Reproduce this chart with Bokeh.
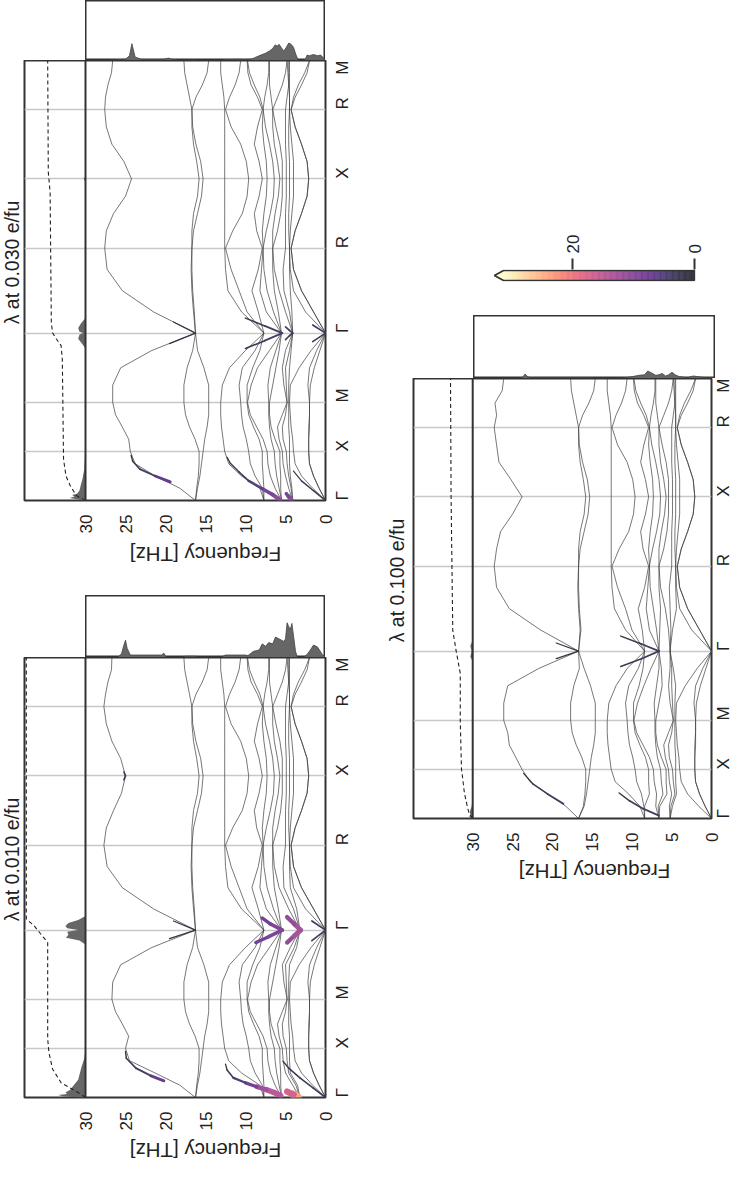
import math
from bokeh.plotting import figure
from bokeh.layouts import row, column
from bokeh.models import (Range1d, FixedTicker, Spacer, ColumnDataSource, Span,
                          CustomJSTickFormatter)
from bokeh.core.properties import value
from bokeh.palettes import Magma256
from bokeh.transform import linear_cmap
from bokeh.embed import file_html
from bokeh.resources import INLINE

FONT = "Liberation Sans"
INK = "#333333"
TXT = "#222222"

# ------------------------------------------------------------------ data
path_labels = ["Γ", "X", "M", "Γ", "R", "X", "R", "M"]
segment_lengths = [0.5, 0.5, 0.7071, 0.8660, 0.7071, 0.7071, 0.5]
sample_fracs = [0.0, 0.25, 0.5, 0.75]
freq_ticks = [0, 5, 10, 15, 20, 25, 30]
cbar_ticks = [0, 20]
LAM_MAX = 31.3

# band frequencies (THz) at the 29 k samples (4 per path segment + end), panel 0.030
bands_base = [
    [0, 0.8, 1.5, 2.0, 2.1, 2.1, 2.0, 2.0, 2.0, 1.9, 1.4, 0.7, 0, 1.5, 3.0, 4.0, 4.3, 3.8, 3.0, 2.3, 2.1, 2.3, 3.0, 3.8, 4.3, 3.8, 3.0, 2.3, 2.0],
    [0, 0.8, 1.5, 2.0, 2.1, 2.1, 2.1, 2.0, 2.0, 2.2, 2.0, 1.1, 0, 1.5, 3.0, 4.0, 4.3, 3.8, 3.0, 2.3, 2.1, 2.3, 3.0, 3.8, 4.3, 4.0, 3.4, 2.6, 2.0],
    [0, 1.6, 3.0, 3.8, 4.0, 4.1, 4.3, 4.4, 4.5, 4.4, 3.3, 1.8, 0, 2.5, 4.0, 4.4, 4.5, 4.4, 4.2, 4.0, 4.0, 4.0, 4.2, 4.4, 4.5, 4.5, 4.5, 4.5, 4.5],
    [4.1, 4.2, 4.4, 4.5, 4.5, 4.5, 4.6, 4.6, 4.6, 4.6, 4.5, 4.3, 4.1, 4.2, 4.4, 4.5, 4.5, 4.6, 4.6, 4.5, 4.5, 4.5, 4.6, 4.6, 4.5, 4.5, 4.6, 4.6, 4.6],
    [4.1, 4.3, 4.6, 4.8, 4.9, 5.3, 5.4, 5.0, 4.8, 4.9, 5.0, 4.5, 4.1, 4.5, 5.2, 5.3, 5.0, 5.0, 5.0, 4.9, 4.9, 4.9, 5.0, 5.0, 5.0, 4.8, 4.6, 4.7, 4.8],
    [4.1, 4.6, 5.0, 5.3, 5.4, 5.8, 6.0, 5.4, 4.8, 5.2, 5.4, 5.0, 4.1, 5.0, 5.8, 6.4, 6.6, 6.0, 5.6, 5.4, 5.4, 5.4, 5.7, 6.2, 6.6, 6.0, 5.4, 5.0, 4.8],
    [5.5, 5.6, 5.6, 5.7, 5.7, 6.3, 6.8, 7.0, 7.0, 6.6, 6.2, 5.8, 5.5, 5.9, 6.4, 6.6, 6.6, 6.6, 6.3, 5.9, 5.7, 6.0, 6.4, 6.6, 6.6, 6.8, 7.0, 7.0, 7.0],
    [5.5, 5.8, 6.1, 6.3, 6.4, 6.8, 7.0, 7.1, 7.1, 7.2, 6.9, 6.2, 5.5, 6.5, 7.3, 7.7, 7.8, 7.4, 6.9, 6.5, 6.4, 6.6, 7.0, 7.5, 7.8, 7.6, 7.3, 7.1, 7.1],
    [5.5, 6.3, 6.9, 7.2, 7.3, 7.8, 8.6, 9.4, 9.75, 9.3, 8.5, 7.0, 5.5, 7.4, 8.2, 8.0, 7.8, 7.9, 7.7, 7.4, 7.3, 7.4, 7.7, 7.9, 7.8, 8.2, 8.9, 9.5, 9.75],
    [7.7, 7.7, 7.8, 7.9, 7.9, 8.3, 9.0, 9.6, 9.8, 9.8, 9.1, 8.2, 7.7, 8.4, 9.2, 8.4, 7.9, 8.6, 8.9, 8.3, 7.9, 8.3, 8.9, 8.5, 7.9, 8.5, 9.3, 9.7, 9.8],
    [7.7, 7.9, 8.8, 9.4, 9.6, 9.9, 10.3, 10.5, 10.6, 10.8, 10.4, 8.8, 7.7, 9.8, 10.8, 11.8, 12.5, 11.6, 10.4, 9.8, 9.6, 9.9, 10.6, 11.8, 12.5, 12.0, 11.3, 10.8, 10.6],
    [7.7, 8.2, 10.5, 12.1, 12.6, 12.8, 13.0, 13.1, 13.1, 12.9, 12.0, 10.0, 7.7, 10.5, 12.2, 12.5, 12.6, 12.6, 12.6, 12.6, 12.6, 12.6, 12.6, 12.6, 12.6, 12.7, 12.9, 13.1, 13.1],
    [16.25, 16.0, 15.7, 15.5, 15.3, 15.1, 14.8, 14.6, 14.6, 14.6, 15.2, 16.0, 16.25, 16.4, 16.6, 16.7, 16.7, 16.5, 16.0, 15.5, 15.3, 15.6, 16.2, 16.6, 16.7, 16.2, 15.4, 14.8, 14.6],
    [16.25, 16.1, 15.9, 15.8, 15.8, 16.3, 17.0, 17.5, 17.7, 17.7, 17.3, 16.6, 16.25, 16.5, 16.7, 16.8, 16.7, 16.7, 16.5, 16.0, 15.8, 16.1, 16.5, 16.7, 16.7, 17.0, 17.3, 17.6, 17.7],
    [16.25, 18.2, 21.3, 23.8, 24.4, 24.6, 25.4, 26.25, 26.6, 26.6, 25.6, 21.7, 16.25, 21.5, 25.4, 27.3, 27.6, 27.4, 26.5, 25.0, 24.25, 25.2, 26.7, 27.4, 27.6, 27.5, 27.2, 26.75, 26.6],
]

# values that differ in the other two panels: {band: {sample: THz}}
overrides_010 = {
    3: {0: 3.2, 1: 3.5, 11: 3.6, 12: 3.2, 13: 3.6},
    4: {0: 3.2, 1: 3.7, 11: 3.9, 12: 3.2, 13: 4.0},
    5: {0: 3.2, 1: 4.1, 11: 4.4, 12: 3.2, 13: 4.6},
    14: {3: 24.5, 4: 25.0, 8: 26.7, 16: 27.7, 19: 25.5, 20: 25.0, 21: 25.6, 24: 27.7, 28: 26.7},
}
overrides_100 = {
    3: {0: 5.2, 1: 4.9, 11: 4.8, 12: 5.2, 13: 4.9},
    4: {0: 5.2, 1: 5.1, 11: 5.0, 12: 5.2, 13: 5.1},
    5: {0: 5.2, 1: 5.3, 11: 5.2, 12: 5.2, 13: 5.4},
    6: {0: 6.6, 1: 6.5, 11: 6.3, 12: 6.6, 13: 6.5},
    7: {0: 6.6, 1: 6.7, 11: 6.6, 12: 6.6, 13: 6.9},
    8: {0: 6.6, 1: 7.0, 11: 7.6, 12: 6.6, 13: 7.8},
    9: {0: 8.4, 1: 8.4, 11: 8.6, 12: 8.4, 13: 8.7},
    10: {0: 8.4, 1: 8.5, 11: 9.2, 12: 8.4, 13: 10.0},
    11: {0: 8.4, 1: 9.0, 2: 10.4, 11: 10.6, 12: 8.4, 13: 10.8},
    12: {0: 16.7, 12: 16.7},
    13: {0: 16.7, 12: 16.7},
    14: {0: 16.7, 1: 18.3, 2: 20.6, 3: 22.8, 4: 23.8, 7: 25.6, 8: 26.1, 9: 26.1, 12: 16.7,
         15: 27.0, 16: 27.3, 17: 27.0, 20: 23.8, 23: 27.0, 24: 27.3, 25: 27.0, 27: 26.3, 28: 26.1},
}

# strongly coupled pieces: (k, frequency, lambda)
hot_010 = [
    ([0.17, 0.22, 0.30, 0.40, 0.47], [20.2, 21.8, 23.7, 24.9, 25.0], [9, 4, 3, 2.5, 2]),
    ([0.02, 0.05, 0.08, 0.11, 0.15, 0.20, 0.28, 0.34], [5.6, 6.4, 7.4, 8.6, 10.0, 11.5, 12.3, 12.5], [14, 15, 14, 10, 6, 3, 2, 1.5]),
    ([0.005, 0.03, 0.06], [3.5, 4.0, 4.8], [26, 21, 13]),
    ([0.0, 0.1, 0.2, 0.3, 0.37], [0.0, 1.6, 3.2, 4.6, 5.3], [3, 2.5, 2.5, 2, 2]),
    ([1.58, 1.64, 1.707, 1.77, 1.83], [8.7, 7.1, 5.4, 6.9, 7.9], [7, 9, 9, 9, 7]),
    ([1.58, 1.65, 1.707, 1.77, 1.84], [4.8, 3.9, 3.1, 3.9, 4.8], [10, 12, 13, 12, 10]),
    ([1.60, 1.707, 1.80], [1.7, 0.0, 1.7], [3, 3, 3]),
    ([1.62, 1.707, 1.80], [19.5, 16.25, 19.0], [1.5, 1.5, 1.5]),
    ([3.24, 3.28, 3.32], [25.2, 25.0, 25.2], [2.5, 2.5, 2.5]),
]
hot_030 = [
    ([0.19, 0.25, 0.32, 0.40, 0.46], [19.4, 21.3, 23.2, 24.1, 24.3], [8, 4, 2.5, 2, 1.5]),
    ([0.0, 0.06, 0.12, 0.20, 0.29, 0.38, 0.44], [5.6, 6.6, 7.9, 9.6, 10.8, 11.9, 12.3], [11, 10, 7, 4, 2.5, 2, 1.5]),
    ([0.0, 0.04, 0.07], [4.2, 4.6, 4.9], [12, 10, 7]),
    ([0.0, 0.1, 0.2, 0.3], [0.0, 1.5, 3.0, 4.0], [2.5, 2, 1.5, 1]),
    ([1.55, 1.63, 1.707, 1.78, 1.86], [10.0, 7.6, 5.4, 7.6, 10.0], [2, 3, 3.5, 3, 2]),
    ([1.64, 1.68, 1.707, 1.735, 1.77], [5.0, 4.5, 4.1, 4.5, 5.0], [2.5, 3, 3, 3, 2.5]),
    ([1.62, 1.707, 1.79], [1.6, 0.0, 1.6], [2.5, 2.5, 2.5]),
    ([1.60, 1.707, 1.82], [19.5, 16.25, 19.0], [1.5, 1.5, 1.5]),
]
hot_100 = [
    ([0.15, 0.25, 0.35, 0.46], [18.6, 20.6, 22.4, 23.6], [4, 2.5, 2, 1.5]),
    ([0.03, 0.10, 0.18, 0.26], [6.6, 8.6, 10.3, 11.6], [3.5, 3, 2.5, 2]),
    ([1.55, 1.63, 1.707, 1.78, 1.86], [11.4, 8.8, 6.6, 8.8, 11.4], [2, 2.5, 3, 2.5, 2]),
    ([1.63, 1.707, 1.79], [19.5, 16.7, 19.5], [1.5, 1.5, 1.5]),
]

# Eliashberg-like spectra on the frequency axis (fraction of strip height)
dos_010_f = [0, 0.4, 1.0, 1.5, 1.9, 2.3, 2.7, 3.0, 3.5, 3.75, 4.0, 4.2, 4.4, 4.6, 4.8, 5.0, 5.2, 5.5, 5.8, 6.25, 6.6, 7.1, 7.5, 7.9, 8.3, 9.0, 9.4, 9.7, 10.0, 12.5, 12.8, 13.2, 16.0, 16.2, 17.5, 17.8, 19.9, 20.2, 20.5, 24.4, 24.8, 25.0, 25.2, 25.5, 26.0]
dos_010_h = [0, 0.05, 0.17, 0.2, 0.12, 0.05, 0.01, 0, 0, 0.1, 0.35, 0.55, 0.45, 0.5, 0.56, 0.3, 0.26, 0.28, 0.3, 0.33, 0.22, 0.24, 0.18, 0.22, 0.12, 0.1, 0.06, 0.03, 0.04, 0.04, 0.02, 0, 0, 0.02, 0.02, 0, 0, 0.07, 0.04, 0.04, 0.15, 0.28, 0.2, 0.06, 0]
dos_030_f = [0, 0.3, 0.6, 1.0, 1.5, 2.0, 2.3, 2.5, 2.8, 3.4, 3.7, 4.0, 4.3, 4.6, 4.9, 5.2, 5.5, 5.8, 6.0, 6.3, 6.6, 7.0, 7.5, 8.1, 8.8, 9.3, 10.0, 11.0, 12.5, 13.0, 16.0, 16.3, 17.6, 18.0, 19.2, 19.6, 20.2, 21.0, 23.0, 23.8, 24.2, 24.5, 25.0, 26.7, 27.2]
dos_030_h = [0, 0.05, 0.09, 0.08, 0.1, 0.08, 0.09, 0.03, 0, 0, 0.1, 0.22, 0.27, 0.29, 0.22, 0.16, 0.21, 0.27, 0.24, 0.26, 0.2, 0.16, 0.12, 0.09, 0.05, 0.02, 0.015, 0.02, 0.015, 0, 0, 0.01, 0.01, 0, 0.02, 0.04, 0.02, 0.015, 0.015, 0.06, 0.28, 0.08, 0.02, 0.01, 0]
dos_100_f = [0, 0.4, 1.0, 2.3, 2.7, 3.1, 3.4, 4.5, 5.0, 5.4, 5.8, 6.2, 6.6, 7.0, 7.4, 7.8, 8.4, 8.8, 9.5, 10.3, 11.2, 12.5, 16.5, 18.6, 23.0, 23.4, 23.6, 23.9, 24.2]
dos_100_h = [0, 0.01, 0.01, 0.03, 0.04, 0.03, 0.01, 0.03, 0.06, 0.1, 0.06, 0.04, 0.08, 0.06, 0.05, 0.08, 0.12, 0.06, 0.05, 0.03, 0.01, 0.005, 0.01, 0.01, 0.01, 0.04, 0.07, 0.02, 0]

# lambda_q along the path (fill) and cumulative lambda (dashed), fraction of strip width
lamq_010_k = [0, 0.01, 0.025, 0.035, 0.05, 0.08, 0.12, 0.18, 0.3, 0.4, 0.5, 1.56, 1.6, 1.63, 1.66, 1.69, 1.707, 1.725, 1.75, 1.78, 1.81, 1.85, 4.4873]
lamq_010_v = [0.1, 0.35, 0.45, 0.3, 0.33, 0.25, 0.2, 0.12, 0.07, 0.02, 0.0, 0.0, 0.1, 0.32, 0.28, 0.3, 0.12, 0.3, 0.33, 0.28, 0.12, 0.0, 0.0]
cum_010_k = [0, 0.05, 0.15, 0.29, 0.46, 0.6, 1.58, 1.68, 1.75, 1.82, 4.4873]
cum_010_v = [0, 0.12, 0.40, 0.54, 0.60, 0.62, 0.62, 0.75, 0.84, 0.97, 0.97]
lamq_030_k = [0, 0.01, 0.025, 0.04, 0.055, 0.07, 0.1, 0.15, 0.22, 0.32, 0.45, 0.5, 1.55, 1.6, 1.65, 1.69, 1.707, 1.72, 1.76, 1.81, 1.86, 3.25, 3.28, 3.31, 4.4873]
lamq_030_v = [0.05, 0.12, 0.26, 0.18, 0.22, 0.14, 0.1, 0.08, 0.05, 0.02, 0.01, 0.0, 0.0, 0.06, 0.12, 0.1, 0.04, 0.1, 0.12, 0.07, 0.0, 0.0, 0.03, 0.0, 0.0]
cum_030_k = [0, 0.05, 0.15, 0.25, 0.42, 1.44, 1.58, 1.65, 1.71, 1.81, 3.14, 3.28, 3.35, 4.4873]
cum_030_v = [0, 0.15, 0.25, 0.32, 0.36, 0.38, 0.40, 0.48, 0.54, 0.56, 0.58, 0.60, 0.61, 0.62]
lamq_100_k = [0, 0.02, 0.04, 0.07, 0.12, 0.2, 1.6, 1.65, 1.707, 1.76, 1.82, 3.26, 3.28, 3.3, 4.4873]
lamq_100_v = [0.02, 0.06, 0.04, 0.05, 0.02, 0.0, 0.0, 0.04, 0.02, 0.04, 0.0, 0.0, 0.03, 0.0, 0.0]
cum_100_k = [0, 0.05, 0.12, 0.26, 0.51, 1.0, 1.48, 1.71, 1.92, 3.27, 4.4873]
cum_100_v = [0, 0.06, 0.09, 0.14, 0.19, 0.21, 0.21, 0.28, 0.337, 0.365, 0.375]

# ------------------------------------------------------------------ derived axes
hs_pos = [0.0]
for L in segment_lengths:
    hs_pos.append(round(hs_pos[-1] + L, 4))
K_END = hs_pos[-1]
k_samples = []
for i, L in enumerate(segment_lengths):
    for fr in sample_fracs:
        k_samples.append(round(hs_pos[i] + fr * L, 4))
k_samples.append(K_END)


def apply_overrides(base, ov):
    out = [list(b) for b in base]
    for b, d in ov.items():
        for i, v in d.items():
            out[b][i] = v
    return out


def blend(hexcol, a=0.8):
    r, g, b = (int(hexcol[i:i + 2], 16) for i in (1, 3, 5))
    return "#%02x%02x%02x" % tuple(int(round(a * c + (1 - a) * 255)) for c in (r, g, b))


MAGMA_SOFT = [blend(c) for c in Magma256]

k_formatter_code = """
let best = 0; let d = 1e9;
for (let i = 0; i < pos.length; i++) { const e = Math.abs(pos[i] - tick); if (e < d) { d = e; best = i; } }
return labs[best];
"""


def bare(p):
    p.outline_line_color = None
    p.xgrid.visible = False
    p.ygrid.visible = False
    p.background_fill_color = "white"
    p.border_fill_color = "white"


def text_fig(width, height, x, y, text, angle, size, align, baseline, flip_y=False):
    p = figure(width=width, height=height, x_range=Range1d(0, width),
               y_range=Range1d(height, 0) if flip_y else Range1d(0, height),
               x_axis_location=None, y_axis_location=None, toolbar_location=None,
               output_backend="svg", min_border_left=0, min_border_right=0,
               min_border_top=0, min_border_bottom=0)
    bare(p)
    p.text(x=[x], y=[y], text=[text], angle=angle, text_font=value(FONT),
           text_font_size=size, text_color=TXT, text_align=align, text_baseline=baseline)
    return p


def make_panel(title, bands, dos_f, dos_h, lq_k, lq_v, cm_k, cm_v, hot,
               frame_w, cum_w, dos_px, label_px, right_px, k_standoff,
               title_w, title_x, label_y, left_px):
    px_per_thz = frame_w / 30.0
    f_max = 30.0 + cum_w / px_per_thz
    k_range = Range1d(0, K_END)
    f_range = Range1d(f_max, 0)
    dos_range = Range1d(30, 0)

    # strip with the spectral function, above the bands
    dos = figure(width=frame_w, height=dos_px, x_range=dos_range, y_range=Range1d(0, 1),
                 x_axis_location=None, y_axis_location=None, toolbar_location=None,
                 output_backend="svg",
                 min_border_left=0, min_border_right=0, min_border_top=0, min_border_bottom=0)
    bare(dos)
    dos.outline_line_color = INK
    dos.outline_line_width = 2
    dos.varea(x=dos_f, y1=0, y2=dos_h, fill_color="#666666")
    dos.line(x=dos_f, y=dos_h, line_color="#444444", line_width=0.8)

    # bands + lambda strip share one frame (k axis)
    main = figure(width=left_px + cum_w + frame_w + right_px, height=440 + 36,
                  x_range=f_range, y_range=k_range, y_axis_location="right",
                  toolbar_location=None, output_backend="svg",
                  min_border_left=left_px, min_border_top=0, min_border_right=right_px,
                  min_border_bottom=36)
    main.background_fill_color = "white"
    main.border_fill_color = "white"
    main.outline_line_color = INK
    main.outline_line_width = 2
    main.extra_x_ranges = {"cum": Range1d(1.0, -frame_w / cum_w)}
    main.xgrid.visible = False
    main.ygrid.ticker = FixedTicker(ticks=hs_pos[1:-1])
    main.ygrid.grid_line_color = "#c8c8c8"
    main.ygrid.grid_line_width = 1.6

    xa = main.xaxis[0]
    xa.ticker = FixedTicker(ticks=freq_ticks)
    xa.major_label_orientation = math.pi / 2
    xa.major_label_text_font = FONT
    xa.major_label_text_font_size = "17px"
    xa.major_label_text_color = TXT
    xa.major_label_standoff = 14
    xa.major_tick_out = 0
    xa.major_tick_in = 0
    xa.minor_tick_out = 0
    xa.minor_tick_in = 0
    xa.axis_line_color = None

    ya = main.yaxis[0]
    ya.ticker = FixedTicker(ticks=hs_pos)
    ya.formatter = CustomJSTickFormatter(args=dict(pos=hs_pos, labs=path_labels), code=k_formatter_code)
    ya.major_label_orientation = math.pi / 2
    ya.major_label_text_font = FONT
    ya.major_label_text_font_size = "17px"
    ya.major_label_text_color = TXT
    ya.major_label_standoff = k_standoff
    ya.major_tick_out = 0
    ya.major_tick_in = 0
    ya.minor_tick_out = 0
    ya.minor_tick_in = 0
    ya.axis_line_color = None

    # lambda along the path
    main.harea(x1=0, x2=lq_v, y=lq_k, fill_color="#666666", x_range_name="cum")
    main.line(x=cm_v, y=cm_k, line_color=TXT, line_width=1.1, line_dash="4 3", x_range_name="cum")
    main.add_layout(Span(location=30, dimension="height", line_color=INK, line_width=2))

    # bands
    main.multi_line(xs=bands, ys=[k_samples] * len(bands), line_color="#3c3c3c", line_width=0.7)

    x0, y0, x1, y1, lam, w = [], [], [], [], [], []
    for ks, fs, ls in hot:
        for i in range(len(ks) - 1):
            x0.append(fs[i]); y0.append(ks[i]); x1.append(fs[i + 1]); y1.append(ks[i + 1])
            lv = 0.5 * (ls[i] + ls[i + 1])
            lam.append(lv)
            w.append(0.8 + 0.32 * lv)
    src = ColumnDataSource(dict(x0=x0, y0=y0, x1=x1, y1=y1, lam=lam, w=w))
    main.segment(x0="x0", y0="y0", x1="x1", y1="y1", source=src, line_width="w",
                 line_color=linear_cmap("lam", MAGMA_SOFT, 0, LAM_MAX), line_cap="round")

    tfig = text_fig(title_w, 440, title_x, 220, title, math.pi / 2, "19.5px", "center", "middle")
    lfig = text_fig(left_px + cum_w + frame_w + right_px, label_px, left_px + cum_w + frame_w / 2, label_y,
                    "Frequency [THz]", math.pi, "20.5px", "center", "middle", flip_y=True)

    return column(row(Spacer(width=title_w + left_px + cum_w, height=dos_px), dos),
                  row(tfig, main),
                  row(Spacer(width=title_w, height=label_px), lfig))


bands_010 = apply_overrides(bands_base, overrides_010)
bands_030 = [list(b) for b in bands_base]
bands_100 = apply_overrides(bands_base, overrides_100)

panel_030 = make_panel("λ at 0.030 e/fu", bands_030, dos_030_f, dos_030_h, lamq_030_k, lamq_030_v,
                       cum_030_k, cum_030_v, hot_030, 240, 61, 60, 36, 42, 17, 23, 11.5, 18, 1)
panel_010 = make_panel("λ at 0.010 e/fu", bands_010, dos_010_f, dos_010_h, lamq_010_k, lamq_010_v,
                       cum_010_k, cum_010_v, hot_010, 240, 61, 62, 28, 42, 17, 23, 11.5, 17, 1)
panel_100 = make_panel("λ at 0.100 e/fu", bands_100, dos_100_f, dos_100_h, lamq_100_k, lamq_100_v,
                       cum_100_k, cum_100_v, hot_100, 242, 60, 63, 28, 30, 12, 44, 29, 17, 2)

# ------------------------------------------------------------------ colorbar
cb = figure(width=378, height=68, x_range=Range1d(32.95, -0.16), y_range=Range1d(-0.1, 1.1),
            x_axis_location="above", y_axis_location=None, toolbar_location=None,
            output_backend="svg", min_border_left=126, min_border_right=50,
            min_border_top=47, min_border_bottom=9)
bare(cb)
n_steps = 160
edges = [LAM_MAX * i / n_steps for i in range(n_steps + 1)]
cbar_src = ColumnDataSource(dict(
    left=edges[:-1], right=edges[1:],
    mid=[0.5 * (edges[i] + edges[i + 1]) for i in range(n_steps)],
))
cmap = linear_cmap("mid", MAGMA_SOFT, 0, LAM_MAX)
cb.quad(left="left", right="right", bottom=0, top=1, source=cbar_src,
        fill_color=cmap, line_color=cmap, line_width=0.6)
cb.patch(x=[LAM_MAX, 32.8, LAM_MAX], y=[0, 0.5, 1], fill_color=MAGMA_SOFT[-1], line_color=None)
cb.line(x=[0, LAM_MAX, 32.8, LAM_MAX, 0, 0], y=[0, 0, 0.5, 1, 1, 0], line_color=INK, line_width=1.6)
ca = cb.xaxis[0]
ca.ticker = FixedTicker(ticks=cbar_ticks)
ca.major_label_orientation = math.pi / 2
ca.major_label_text_font = FONT
ca.major_label_text_font_size = "17px"
ca.major_label_text_color = TXT
ca.major_label_standoff = 5
ca.major_tick_out = 11
ca.major_tick_in = 0
ca.major_tick_line_width = 2
ca.major_tick_line_color = INK
ca.minor_tick_out = 0
ca.axis_line_color = None

# ------------------------------------------------------------------ layout
left_col = column(panel_030, Spacer(width=10, height=23), panel_010)
right_col = column(Spacer(width=10, height=222), cb, Spacer(width=10, height=25), panel_100)
layout = row(left_col, right_col)

open("out.html", "w").write(file_html(layout, INLINE, title="phonon lambda"))
